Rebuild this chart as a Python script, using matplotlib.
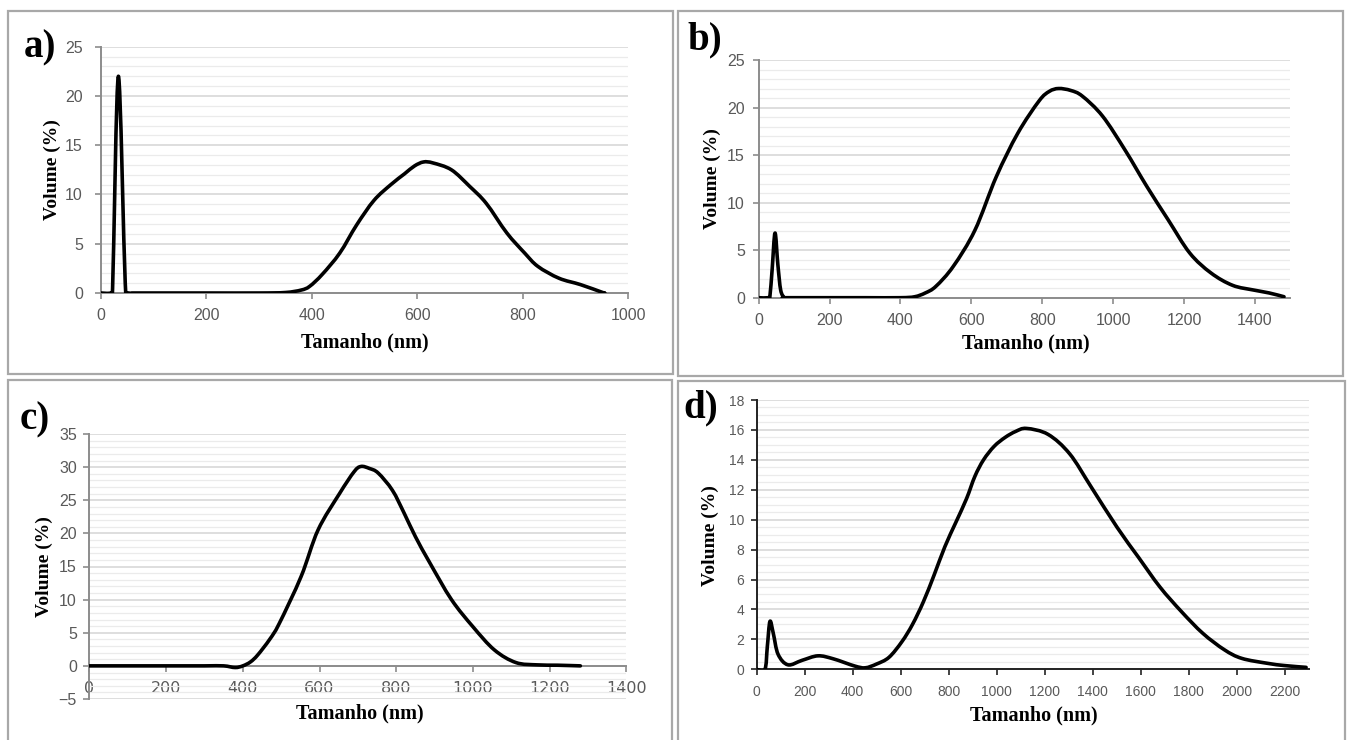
import matplotlib
matplotlib.use("Agg")
import numpy as np
import matplotlib.pyplot as plt
from matplotlib.path import Path
from matplotlib.patches import PathPatch

W, H = 1348, 740

a_x = [0, 18, 22, 33, 46, 52, 60, 100, 200, 300, 350, 380, 396, 420, 453, 485, 518, 550, 576, 595, 612, 630,
       665, 700, 731, 770, 804, 829, 869, 910, 951, 955]
a_y = [0, 0, 0.5, 22.0, 1.0, 0, 0, 0, 0, 0, 0.05, 0.3, 0.68, 1.9, 4.05, 6.9, 9.4, 11.0, 12.1, 12.9, 13.3,
       13.2, 12.5, 10.8, 9.1, 6.1, 4.05, 2.7, 1.5, 0.85, 0.07, 0]

b_x = [0, 28, 32, 38, 46, 54, 62, 72, 76, 200, 300, 400, 440, 470, 500, 549, 610, 670, 731, 791, 820, 846,
       880, 913, 970, 1034, 1095, 1155, 1216, 1276, 1337, 1397, 1440, 1482]
b_y = [0, 0, 0.3, 3.0, 6.8, 3.5, 0.8, 0, 0, 0, 0, 0, 0.1, 0.5, 1.2, 3.3, 7.1, 12.7, 17.3, 20.7, 21.7, 22.0,
       21.8, 21.2, 19.1, 15.5, 11.7, 8.2, 4.7, 2.6, 1.3, 0.8, 0.5, 0.1]

c_x = [0, 100, 200, 300, 350, 380, 400, 420, 439, 470, 495, 552, 596, 652, 690, 708, 730, 753, 790, 821,
       850, 888, 944, 1000, 1056, 1112, 1168, 1220, 1280]
c_y = [0, 0, 0, 0, 0, -0.25, 0, 0.6, 1.66, 4.0, 6.4, 13.5, 20.5, 26.0, 29.3, 30.1, 29.8, 29.1, 26.5, 23.0,
       19.5, 15.5, 10.0, 5.9, 2.4, 0.5, 0.15, 0.1, 0]

d_x = [0, 35, 45, 56, 70, 90, 131, 190, 256, 320, 409, 453, 500, 552, 606, 650, 695, 740, 785, 830, 875,
       910, 946, 990, 1036, 1080, 1125, 1215, 1305, 1394, 1502, 1591, 1681, 1771, 1860, 1950, 2022, 2129,
       2200, 2290]
d_y = [0, 0, 1.5, 3.2, 2.4, 1.0, 0.3, 0.6, 0.9, 0.7, 0.22, 0.1, 0.35, 0.8, 1.85, 3.0, 4.5, 6.3, 8.2, 9.8,
       11.4, 12.9, 14.0, 14.9, 15.5, 15.9, 16.1, 15.7, 14.4, 12.2, 9.5, 7.5, 5.5, 3.85, 2.4, 1.3, 0.73, 0.4,
       0.25, 0.13]

a_yticks = [0, 5, 10, 15, 20, 25]
b_yticks = [0, 5, 10, 15, 20, 25]
c_yticks = [-5, 0, 5, 10, 15, 20, 25, 30, 35]
d_yticks = [0, 2, 4, 6, 8, 10, 12, 14, 16, 18]
a_xticks = [0, 200, 400, 600, 800, 1000]
b_xticks = [0, 200, 400, 600, 800, 1000, 1200, 1400]
c_xticks = [0, 200, 400, 600, 800, 1000, 1200, 1400]
d_xticks = [0, 200, 400, 600, 800, 1000, 1200, 1400, 1600, 1800, 2000, 2200]

SERIF = "Liberation Serif"
SANS = "Liberation Sans"


def box(left, top, right, bottom):
    # pixel box -> figure fraction [l, b, w, h]
    return [left / W, 1 - bottom / H, (right - left) / W, (bottom - top) / H]


def smooth_line(ax, x, y):
    # Excel style "smoothed line": cubic bezier through every data point
    p = np.column_stack([x, y]).astype(float)
    n = len(p)
    verts = [p[0]]
    codes = [Path.MOVETO]
    for i in range(n - 1):
        p0 = p[i - 1] if i > 0 else p[i]
        p3 = p[i + 2] if i + 2 < n else p[i + 1]
        verts += [p[i] + (p[i + 1] - p0) / 6, p[i + 1] - (p3 - p[i]) / 6, p[i + 1]]
        codes += [Path.CURVE4] * 3
    ax.add_patch(PathPatch(Path(verts, codes), fill=False, edgecolor="black", lw=2.6,
                           joinstyle="round", capstyle="round", zorder=3))


def panel(rect, x, y, xlim, ylim, xticks, yticks, minor, axcolor, tick_fs, ypad):
    ax = fig.add_axes(rect)
    smooth_line(ax, x, y)
    ax.set_xlim(*xlim)
    ax.set_ylim(*ylim)
    ax.set_xticks(xticks)
    ax.set_yticks(yticks)
    nminor = int(round((ylim[1] - ylim[0]) / minor))
    ax.set_yticks([ylim[0] + i * minor for i in range(nminor + 1)
                   if ylim[0] + i * minor not in yticks], minor=True)
    ax.grid(True, axis="y", which="major", color="#d4d4d4", lw=1.1)
    ax.grid(True, axis="y", which="minor", color="#ebebeb", lw=0.9)
    ax.set_axisbelow(True)
    for s in ["top", "right"]:
        ax.spines[s].set_visible(False)
    for s in ["left", "bottom"]:
        ax.spines[s].set_color(axcolor)
        ax.spines[s].set_linewidth(1.4)
    ax.tick_params(axis="both", which="major", direction="out", length=4, width=1.2,
                   color=axcolor, labelcolor="#595959", labelsize=tick_fs)
    ax.tick_params(axis="x", pad=7)
    ax.tick_params(axis="y", pad=ypad)
    ax.tick_params(axis="y", which="minor", length=0)
    for lab in ax.get_xticklabels() + ax.get_yticklabels():
        lab.set_fontfamily(SANS)
    return ax


fig = plt.figure(figsize=(W / 100, H / 100), dpi=100)

# panel frames
frames = [(8, 11, 673, 374), (678, 11, 1343, 376), (8, 380, 672, 745), (678, 381, 1345, 745)]
for l, t, r, b in frames:
    fig.add_artist(plt.Rectangle((l / W, 1 - b / H), (r - l) / W, (b - t) / H, transform=fig.transFigure,
                                 fill=False, edgecolor="#a8a8a8", lw=1.6))

ax_a = panel(box(101, 46.7, 628, 293), a_x, a_y, (0, 1000), (0, 25), a_xticks, a_yticks, 1,
             "#8c8c8c", 11.5, 9)
ax_b = panel(box(758.7, 60, 1290.4, 297.7), b_x, b_y, (0, 1500), (0, 25), b_xticks, b_yticks, 1,
             "#8c8c8c", 11.5, 6)
ax_c = panel(box(89.4, 434, 626.4, 699), c_x, c_y, (0, 1400), (-5, 35), c_xticks, c_yticks, 1,
             "#8c8c8c", 11.5, 5)
ax_d = panel(box(756.5, 400, 1308.5, 669.3), d_x, d_y, (0, 2300), (0, 18), d_xticks, d_yticks, 0.5,
             "#222222", 10, 5)

# in c) the category axis crosses at zero
ax_c.spines["bottom"].set_position(("data", 0))

# panel letters and axis titles
letters = [("a)", 40, 48), ("b)", 705, 40), ("c)", 35, 420), ("d)", 701, 408)]
for txt, px, py in letters:
    fig.text(px / W, 1 - py / H, txt, fontsize=28, fontweight="bold", family=SERIF, ha="center", va="center")

ylabels = [(52, 170), (712, 179), (44, 567), (710, 536)]
for px, py in ylabels:
    fig.text(px / W, 1 - py / H, "Volume (%)", rotation=90, fontsize=14, fontweight="bold", family=SERIF,
             ha="center", va="center")

xlabels = [(365, 342), (1026, 343), (360, 713), (1034, 715)]
for px, py in xlabels:
    fig.text(px / W, 1 - py / H, "Tamanho (nm)", fontsize=14.5, fontweight="bold", family=SERIF,
             ha="center", va="center")

plt.savefig("out.png", dpi=100)
